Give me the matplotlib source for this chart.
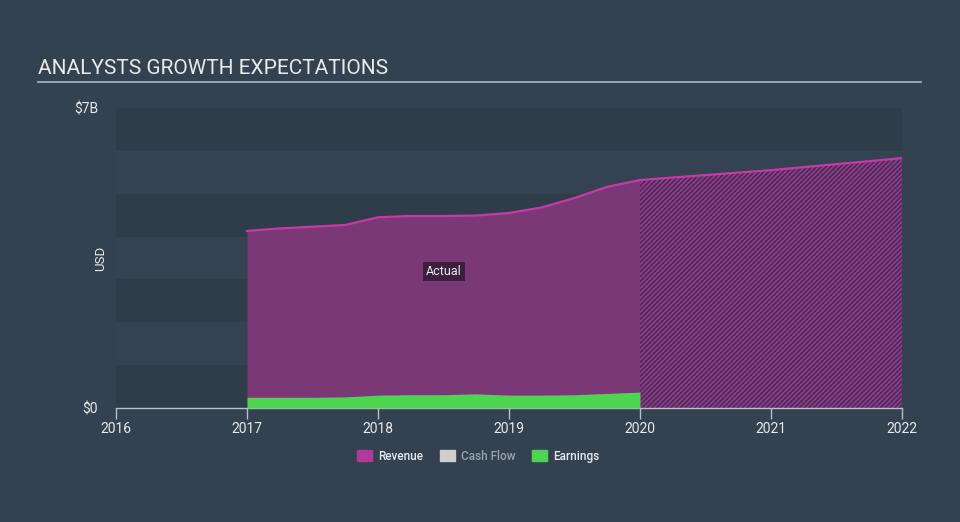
import matplotlib.pyplot as plt
from matplotlib.patches import Patch

# Revenue (USD billions), actual quarterly readings
rev_years = [2017.0, 2017.25, 2017.5, 2017.75, 2018.0, 2018.25, 2018.5,
             2018.75, 2019.0, 2019.25, 2019.5, 2019.75, 2020.0]
rev_values = [4.13, 4.19, 4.23, 4.27, 4.45, 4.48, 4.48,
              4.49, 4.55, 4.68, 4.90, 5.16, 5.32]

# Revenue analyst forecast
fc_years = [2020.0, 2021.0, 2022.0]
fc_values = [5.32, 5.55, 5.83]

# Earnings (USD billions)
earn_years = rev_years
earn_values = [0.25, 0.25, 0.25, 0.26, 0.30, 0.31, 0.31,
               0.33, 0.30, 0.30, 0.31, 0.34, 0.37]

x_ticks = [2016, 2017, 2018, 2019, 2020, 2021, 2022]
y_ticks = [0, 7]
y_tick_labels = ['$0', '$7B']

BG = '#344150'
BAND_DARK = '#2f3c4a'
BAND_LIGHT = '#344251'
REV_LINE = '#c43ba6'
REV_FILL = '#7b3877'
EARN = '#4fd452'
TEXT = '#e8eaed'

plt.rcParams['font.family'] = ['Roboto', 'DejaVu Sans']
plt.rcParams['hatch.linewidth'] = 1.0

fig = plt.figure(figsize=(9.6, 5.22), dpi=100, facecolor=BG)
ax = fig.add_axes([116 / 960, 1 - 408 / 522, (902 - 116) / 960, 300 / 522])
ax.set_facecolor(BG)

# alternating horizontal bands, one per billion
for i in range(7):
    ax.axhspan(i, i + 1, color=BAND_DARK if i % 2 == 0 else BAND_LIGHT,
               lw=0, zorder=0)

# revenue actual
ax.fill_between(rev_years, rev_values, 0, color=REV_FILL, lw=0, zorder=2)
ax.plot(rev_years, rev_values, color=REV_LINE, lw=1.6, zorder=4)

# revenue forecast (hatched)
ax.fill_between(fc_years, fc_values, 0, facecolor='#4b2e57',
                edgecolor='#a03c97', hatch='/' * 7, lw=0, zorder=2)
ax.plot(fc_years, fc_values, color=REV_LINE, lw=1.6, zorder=4)
ax.plot([2022, 2022], [0, fc_values[-1]], color='#8a3a84', lw=1, zorder=3)

# earnings
ax.fill_between(earn_years, earn_values, 0, color=EARN, lw=0, zorder=3)

ax.set_xlim(2016, 2022)
ax.set_ylim(0, 7)

for s in ['top', 'right', 'left']:
    ax.spines[s].set_visible(False)
ax.spines['bottom'].set_color('#b9c0c8')
ax.spines['bottom'].set_linewidth(1)

ax.set_xticks(x_ticks)
ax.set_xticklabels([str(y) for y in x_ticks])
ax.tick_params(axis='x', colors='#b9c0c8', labelcolor=TEXT, length=8,
               width=1, labelsize=10, pad=2)
ax.set_yticks(y_ticks)
ax.set_yticklabels(y_tick_labels)
ax.tick_params(axis='y', length=0, labelcolor=TEXT, labelsize=10, pad=13)

ax.set_ylabel('USD', color=TEXT, fontsize=9.5)
ax.yaxis.set_label_coords(-0.011, 0.5)

ax.text(2018.5, 3.18, 'Actual', color=TEXT, fontsize=9, ha='center',
        va='center', zorder=6,
        bbox=dict(boxstyle='square,pad=0.25', fc='#3c1f3c', ec='none'))

# title and rule
fig.text(38 / 960, 1 - 68 / 522, 'ANALYSTS GROWTH EXPECTATIONS', color=TEXT,
         fontsize=15, va='center', ha='left')
fig.add_artist(plt.Line2D([38 / 960, 921 / 960], [1 - 82 / 522, 1 - 82 / 522],
                          color='#b0b8c2', lw=1.2))

# legend
handles = [Patch(color='#b2399c', label='Revenue'),
           Patch(color='#cfcfcf', label='Cash Flow'),
           Patch(color=EARN, label='Earnings')]
leg = fig.legend(handles=handles, loc='center', ncol=3,
                 bbox_to_anchor=(478 / 960, 1 - 456 / 522), frameon=False,
                 prop={'size': 8.5, 'weight': 'medium'}, handlelength=1.3,
                 handleheight=1.0, handletextpad=0.5, columnspacing=1.4)
for t, c in zip(leg.get_texts(), [TEXT, '#9aa2ab', TEXT]):
    t.set_color(c)

fig.savefig('out.png', dpi=100, facecolor=BG)
